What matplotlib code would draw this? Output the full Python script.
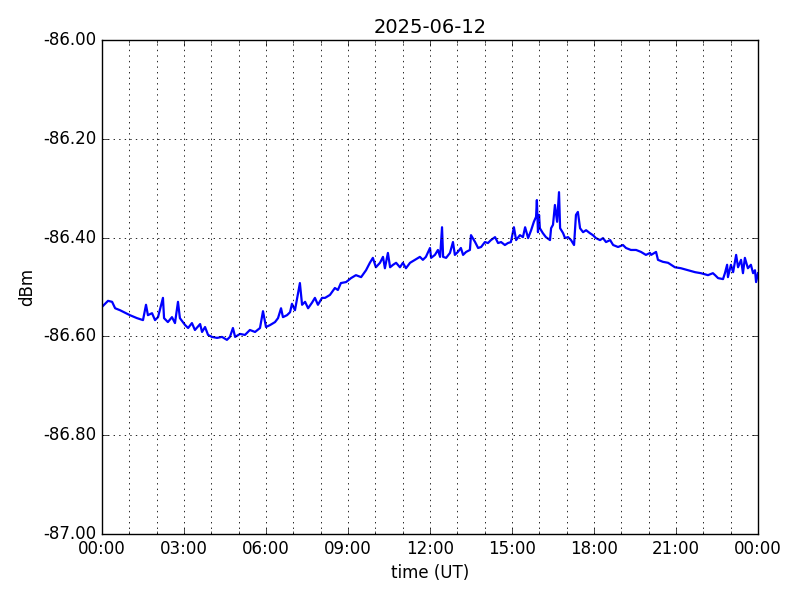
import numpy as np
import pandas as pd
import matplotlib
matplotlib.use('Agg')
import matplotlib.pyplot as plt
import matplotlib.dates as mdates
from matplotlib.ticker import FormatStrFormatter

plt.style.use('classic')

# hours after midnight (UT) and received level in dBm
hours = [0.04, 0.22, 0.37, 0.48, 0.66, 1.02, 1.28, 1.50, 1.61, 1.68, 1.83, 1.94,
         2.05, 2.23, 2.27, 2.41, 2.56, 2.67, 2.78, 2.85, 3.04, 3.15, 3.29, 3.40,
         3.59, 3.66, 3.77, 3.88, 4.02, 4.21, 4.39, 4.57, 4.68, 4.79, 4.87, 5.05,
         5.23, 5.41, 5.60, 5.78, 5.89, 6.00, 6.15, 6.33, 6.44, 6.55, 6.62, 6.77,
         6.88, 6.95, 7.06, 7.13, 7.24, 7.32, 7.43, 7.54, 7.68, 7.79, 7.90, 8.05,
         8.16, 8.34, 8.52, 8.63, 8.74, 8.93, 9.11, 9.29, 9.48, 9.66, 9.80, 9.91,
         10.02, 10.17, 10.28, 10.35, 10.46, 10.54, 10.65, 10.76, 10.90, 11.01, 11.12, 11.27,
         11.45, 11.63, 11.74, 11.85, 12.00, 12.04, 12.18, 12.29, 12.37, 12.44, 12.48, 12.59,
         12.73, 12.84, 12.91, 13.02, 13.13, 13.21, 13.32, 13.46, 13.50, 13.65, 13.76, 13.87,
         14.01, 14.12, 14.23, 14.38, 14.49, 14.60, 14.74, 14.85, 14.96, 15.07, 15.15, 15.29,
         15.40, 15.48, 15.59, 15.70, 15.80, 15.88, 15.91, 15.95, 15.99, 16.02, 16.13, 16.24,
         16.39, 16.43, 16.50, 16.57, 16.65, 16.72, 16.76, 16.87, 16.94, 17.05, 17.16, 17.27,
         17.34, 17.41, 17.49, 17.60, 17.71, 17.85, 17.96, 18.07, 18.22, 18.33, 18.44, 18.59,
         18.70, 18.88, 19.06, 19.17, 19.35, 19.54, 19.72, 19.90, 20.05, 20.09, 20.27, 20.34,
         20.52, 20.71, 20.96, 21.18, 21.44, 21.70, 21.91, 22.17, 22.35, 22.43, 22.54, 22.72,
         22.79, 22.87, 22.90, 23.01, 23.09, 23.20, 23.27, 23.38, 23.45, 23.52, 23.63, 23.74,
         23.82, 23.89, 23.93, 24.00]
dbm = [-86.538, -86.528, -86.530, -86.543, -86.547, -86.557, -86.563, -86.567, -86.536, -86.557, -86.553, -86.567,
       -86.561, -86.522, -86.563, -86.571, -86.561, -86.573, -86.530, -86.563, -86.577, -86.583, -86.573, -86.587,
       -86.575, -86.591, -86.581, -86.597, -86.601, -86.603, -86.601, -86.607, -86.601, -86.583, -86.601, -86.595,
       -86.597, -86.587, -86.591, -86.583, -86.549, -86.581, -86.577, -86.571, -86.563, -86.543, -86.561, -86.557,
       -86.551, -86.534, -86.547, -86.526, -86.492, -86.536, -86.530, -86.543, -86.532, -86.522, -86.536, -86.522,
       -86.522, -86.516, -86.502, -86.506, -86.492, -86.490, -86.482, -86.476, -86.480, -86.466, -86.451, -86.441,
       -86.460, -86.451, -86.439, -86.462, -86.431, -86.460, -86.455, -86.451, -86.460, -86.451, -86.462, -86.451,
       -86.445, -86.439, -86.445, -86.439, -86.421, -86.441, -86.435, -86.425, -86.439, -86.379, -86.439, -86.441,
       -86.431, -86.409, -86.435, -86.429, -86.421, -86.435, -86.429, -86.425, -86.395, -86.409, -86.421, -86.419,
       -86.409, -86.411, -86.405, -86.399, -86.411, -86.409, -86.415, -86.411, -86.409, -86.379, -86.405, -86.395,
       -86.399, -86.379, -86.401, -86.385, -86.368, -86.358, -86.324, -86.389, -86.354, -86.381, -86.391, -86.399,
       -86.405, -86.381, -86.374, -86.334, -86.368, -86.308, -86.381, -86.391, -86.401, -86.399, -86.405, -86.415,
       -86.354, -86.348, -86.381, -86.389, -86.385, -86.391, -86.395, -86.401, -86.405, -86.401, -86.409, -86.405,
       -86.415, -86.419, -86.415, -86.421, -86.425, -86.425, -86.429, -86.435, -86.431, -86.435, -86.429, -86.445,
       -86.449, -86.451, -86.460, -86.462, -86.466, -86.470, -86.472, -86.476, -86.472, -86.476, -86.482, -86.484,
       -86.472, -86.455, -86.480, -86.455, -86.470, -86.435, -86.460, -86.445, -86.472, -86.441, -86.462, -86.455,
       -86.472, -86.466, -86.490, -86.472]

day = pd.Timestamp('2025-06-12')
t = day + pd.to_timedelta(hours, unit='h')

fig = plt.figure(figsize=(8, 6), dpi=100, facecolor='white')
ax = fig.add_axes([0.1275, 0.11, 0.82, 0.8233])
ax.plot(t, dbm, color='b', linewidth=1.6)

ax.set_xlim(day, day + pd.Timedelta(hours=24))
ax.set_ylim(-87.0, -86.0)
ax.xaxis.set_major_locator(mdates.HourLocator(byhour=range(0, 24, 3)))
ax.xaxis.set_minor_locator(mdates.HourLocator())
ax.xaxis.set_major_formatter(mdates.DateFormatter('%H:%M'))
ax.yaxis.set_major_locator(plt.MultipleLocator(0.2))
ax.yaxis.set_major_formatter(FormatStrFormatter('%.2f'))

# dotted grid: every hour on x, major ticks only on y
ax.grid(True, which='major', axis='both', color='k', linestyle=':', linewidth=0.6)
ax.grid(True, which='minor', axis='x', color='k', linestyle=':', linewidth=0.6)

ax.set_title('2025-06-12', fontsize=14)
ax.set_xlabel('time (UT)')
ax.set_ylabel('dBm')

fig.savefig('out.png', dpi=100, facecolor='white')
